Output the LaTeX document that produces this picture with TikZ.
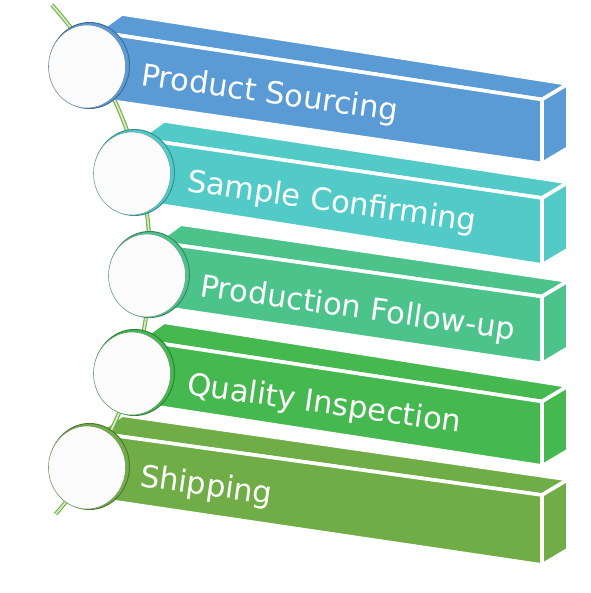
\documentclass[tikz,border=0pt]{standalone}
\usepackage{fontspec}
\newfontfamily\lblfont{DejaVu Sans}
\usetikzlibrary{shapes.geometric,calc}
\definecolor{cA}{HTML}{5B9BD5}
\definecolor{cB}{HTML}{52CBC8}
\definecolor{cC}{HTML}{4DC38C}
\definecolor{cD}{HTML}{46B850}
\definecolor{cE}{HTML}{70AD47}
\definecolor{arcg}{HTML}{6FAE45}
\definecolor{arcl}{HTML}{D5EBC6}
\definecolor{discfill}{HTML}{FBFBFB}
\tikzset{
  barface/.style={fill=#1, draw=white, line width=3.6pt, line join=round},
  discrim/.style={ellipse, minimum width=80pt, minimum height=86pt, inner sep=0pt, fill=#1, draw=#1!70!black, line width=1pt},
  disc/.style={ellipse, minimum width=77pt, minimum height=83pt, inner sep=0pt, fill=discfill, draw=#1!50!gray, line width=0.6pt},
  lbl/.style={anchor=base west, rotate=-8, text=white, inner sep=0pt, font=\lblfont\fontsize{30.5}{32}\selectfont},
  arcline/.style={draw=arcg, double=arcl, line width=1.1pt, double distance=1.8pt}
}
% #1 colour, #2 left x, #3 top-left y, #4 bottom-left y, #5 top-right y, #6 bottom-right y
\newcommand\mybar[6]{%
  \path[barface=#1] (#2,#3) -- (542,#5) -- (568,{#5-15.5}) -- ({#2+25},{#3-18}) -- cycle;
  \path[barface=#1] (542,#5) -- (542,#6) -- (568,{#6-15.5}) -- (568,{#5-15.5}) -- cycle;
  \path[barface=#1] (#2,#3) -- (542,#5) -- (542,#6) -- (#2,#4) -- cycle;
}
\newcommand\mydisc[3]{% #1 name, #2 centre, #3 colour
  \node[discrim=#3] at ($#2+(1.5,-0.5)$) {};
  \node[disc=#3] (#1) at ($#2+(-1,0.5)$) {};
}
\begin{document}
\begin{tikzpicture}[x=1pt,y=-1pt]
\useasboundingbox (0,0) rectangle (590,593);
% bars
\mybar{cA}{97}{31.9}{99}{99.5}{163.5}
\mybar{cB}{139}{138.8}{201.7}{198}{265}
\mybar{cC}{156}{242.1}{306.6}{296.5}{363.5}
\mybar{cD}{139}{340.2}{404}{401.5}{466}
\mybar{cE}{97}{433.1}{499.1}{495}{565}
% guide arc
\coordinate (arcstart) at (52,5);
\draw[arcline] (arcstart) arc[start angle=-41.8, end angle=41, radius=385];
% discs
\mydisc{c1}{(88,66)}{cA}
\mydisc{c2}{(133,173)}{cB}
\mydisc{c3}{(148,275)}{cC}
\mydisc{c4}{(133,373)}{cD}
\mydisc{c5}{(88,467)}{cE}
% labels
\node[lbl] (t1) at (140,85) {Product Sourcing};
\node[lbl] (t2) at (186,191) {Sample Confirming};
\node[lbl] (t3) at (199,296) {Production Follow-up};
\node[lbl] (t4) at (186,394) {Quality Inspection};
\node[lbl] (t5) at (139,486) {Shipping};
\end{tikzpicture}
\end{document}
